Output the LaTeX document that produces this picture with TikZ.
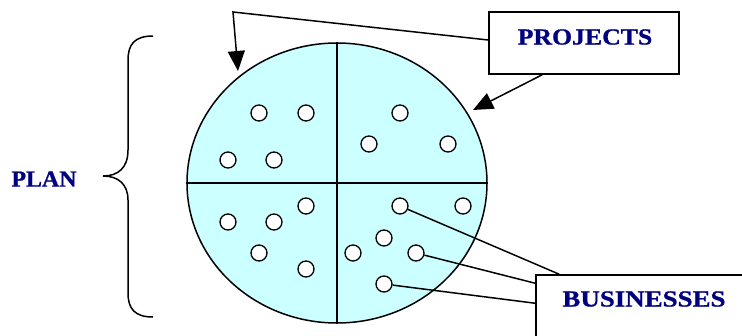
\documentclass[tikz,border=0pt]{standalone}
\usepackage{fontspec}
\setmainfont{Liberation Serif}
\newfontfamily\lblfont{Liberation Serif}[FakeBold=0.8,BoldFont={Liberation Serif Bold}]
\usetikzlibrary{shapes.geometric,arrows.meta,calc}
\definecolor{cyanfill}{HTML}{CCFFFF}
\definecolor{navy}{HTML}{000080}
\begin{document}
\begin{tikzpicture}[x=1pt,y=-1pt,
  dot/.style={circle,draw,fill=white,minimum size=16pt,inner sep=0pt,line width=1.3pt},
  lbl/.style={text=navy,font=\fontsize{23}{26}\lblfont\bfseries,inner sep=0pt},
  boxst/.style={draw,line width=1.5pt,fill=white,inner sep=0pt},
  conn/.style={line width=1.5pt},
  tip/.style={-{Triangle[length=20pt,width=17pt]}}]
\useasboundingbox (0,0) rectangle (742,335);
\clip (0,0) rectangle (742,335);
% main ellipse
\node[ellipse,draw,fill=cyanfill,line width=1.5pt,minimum width=300pt,minimum height=280pt,inner sep=0pt] (plan) at (337,183) {};
\draw[conn] (plan.north) -- (plan.south);
\draw[conn] (plan.west) -- (plan.east);
% dots
\node[dot] (d1) at (259,113) {};
\node[dot] (d2) at (306,113) {};
\node[dot] (d3) at (400,113) {};
\node[dot] (d4) at (369,144) {};
\node[dot] (d5) at (448,144) {};
\node[dot] (d6) at (228,160) {};
\node[dot] (d7) at (274,160) {};
\node[dot] (d8) at (306,206) {};
\node[dot] (d9) at (400,206) {};
\node[dot] (d10) at (463,206) {};
\node[dot] (d11) at (228,222) {};
\node[dot] (d12) at (274,222) {};
\node[dot] (d13) at (384,238) {};
\node[dot] (d14) at (259,253) {};
\node[dot] (d15) at (353,253) {};
\node[dot] (d16) at (416,253) {};
\node[dot] (d17) at (306,269) {};
\node[dot] (d18) at (384,284) {};
% projects box
\node[boxst,minimum width=190pt,minimum height=62pt] (proj) at (584,43) {};
\node[lbl] (projt) at (585,37) {\scalebox{1.12}[1]{PROJECTS}};
\coordinate (bend) at (233,12);
\coordinate (tip1) at (238,71);
\coordinate (tip2) at (473,110);
\draw[conn,tip] ($(proj.west)+(0,-3)$) -- (bend) -- (tip1);
\draw[conn,tip] ($(proj.south west)+(54,0)$) -- (tip2);
% businesses box
\node[boxst,minimum width=209pt,minimum height=65pt] (bus) at (640.5,307.5) {};
\node[lbl] (bust) at (644,299) {\scalebox{1.17}[1]{BUSINESSES}};
\draw[conn] (d9) -- ($(bus.north west)+(24,0)$);
\draw[conn] (d16) -- ($(bus.north west)+(0,9)$);
\draw[conn] (d18) -- ($(bus.north west)+(0,29)$);
% brace and plan label
\draw[line width=1.5pt] (153,36) .. controls (135,36) and (128,44) .. (128,60)
  -- (128,150) .. controls (128,168) and (118,176) .. (103,176)
  .. controls (118,176) and (128,184) .. (128,200)
  -- (128,293) .. controls (128,309) and (135,317) .. (153,317);
\node[lbl] (plant) at (44,179) {\scalebox{1.04}[1]{PLAN}};
\end{tikzpicture}
\end{document}
